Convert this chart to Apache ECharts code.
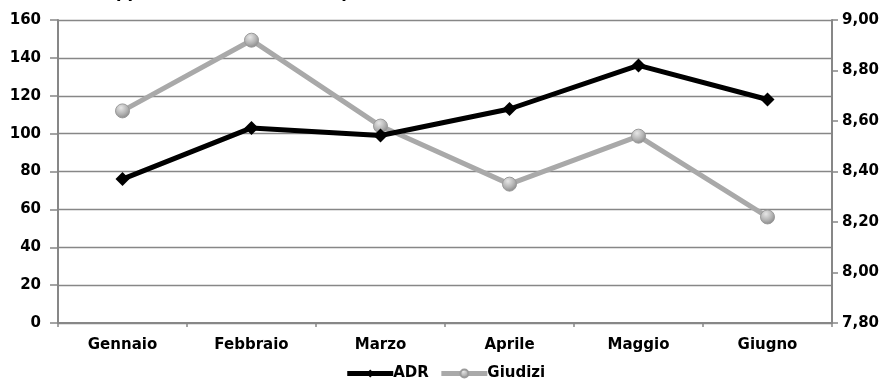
<!DOCTYPE html>
<html>
<head>
<meta charset="utf-8">
<script src="https://cdn.jsdelivr.net/npm/echarts@6/dist/echarts.min.js"></script>
<style>
  html, body { margin: 0; padding: 0; background: #fff; }
  #chart { width: 890px; height: 387px; }
</style>
</head>
<body>
<div id="chart"></div>
<script>
// Monthly ADR (left axis) against average guest rating (right axis)
const titleText = 'Grafico 1: Rapporto tra ADR e Giudizi per mese';
const months = ['Gennaio', 'Febbraio', 'Marzo', 'Aprile', 'Maggio', 'Giugno'];
const adrValues = [76, 103, 99, 113, 136, 118];
const ratingValues = [8.64, 8.92, 8.58, 8.35, 8.54, 8.22];
const seriesNames = ['ADR', 'Giudizi'];

const FONT = 'DejaVu Sans';
const AXIS_GREY = '#878787';
const LABEL = { color: '#000', fontSize: 15, fontWeight: 'bold', fontFamily: FONT };

const chart = echarts.init(document.getElementById('chart'), null, { renderer: 'canvas' });

const sphere = new echarts.graphic.RadialGradient(0.4, 0.3, 0.7, [
  { offset: 0, color: '#e6e6e6' },
  { offset: 0.6, color: '#b3b3b3' },
  { offset: 1, color: '#8a8a8a' }
]);

chart.setOption({
  animation: false,
  backgroundColor: '#ffffff',
  textStyle: { fontFamily: FONT },
  title: {
    text: titleText,
    left: 0,
    top: -14,
    padding: 0,
    textStyle: { fontFamily: FONT, fontSize: 16, fontWeight: 'bold', color: '#000' }
  },
  legend: {
    bottom: 1,
    left: 'center',
    itemWidth: 46,
    itemHeight: 10,
    itemGap: 10,
    textStyle: Object.assign({}, LABEL, { padding: [0, 0, 0, -5] }),
    data: [
      { name: seriesNames[0], lineStyle: { width: 5, color: '#000' } },
      { name: seriesNames[1], lineStyle: { width: 5, color: '#a9a9a9' } }
    ]
  },
  grid: { left: 58, right: 58, top: 20, bottom: 64, containLabel: false },
  xAxis: {
    type: 'category',
    data: months,
    boundaryGap: true,
    axisLine: { lineStyle: { color: AXIS_GREY, width: 2 } },
    axisTick: { show: true, length: 4, lineStyle: { color: AXIS_GREY, width: 1.5 } },
    axisLabel: Object.assign({ margin: 15 }, LABEL)
  },
  yAxis: [
    {
      type: 'value',
      min: 0,
      max: 160,
      interval: 20,
      axisLine: { show: true, lineStyle: { color: AXIS_GREY, width: 2 } },
      axisTick: { show: true, length: 8, lineStyle: { color: AXIS_GREY, width: 1.5 } },
      axisLabel: Object.assign({ margin: 17 }, LABEL),
      splitLine: { show: true, lineStyle: { color: AXIS_GREY, width: 1.3 } }
    },
    {
      type: 'value',
      min: 7.8,
      max: 9.0,
      interval: 0.2,
      position: 'right',
      axisLine: { show: true, lineStyle: { color: AXIS_GREY, width: 2 } },
      axisTick: { show: true, length: 6, lineStyle: { color: AXIS_GREY, width: 1.5 } },
      axisLabel: Object.assign({
        margin: 10,
        formatter: v => v.toFixed(2).replace('.', ',')
      }, LABEL),
      splitLine: { show: false }
    }
  ],
  series: [
    {
      name: seriesNames[0],
      type: 'line',
      yAxisIndex: 0,
      data: adrValues,
      symbol: 'diamond',
      symbolSize: 14,
      lineStyle: { color: '#000', width: 5 },
      itemStyle: { color: '#000' },
      z: 3
    },
    {
      name: seriesNames[1],
      type: 'line',
      yAxisIndex: 1,
      data: ratingValues,
      symbol: 'circle',
      symbolSize: 14,
      lineStyle: { color: '#a9a9a9', width: 5 },
      itemStyle: { color: sphere, borderColor: '#9a9a9a', borderWidth: 1 },
      z: 2
    }
  ]
});
</script>
</body>
</html>
